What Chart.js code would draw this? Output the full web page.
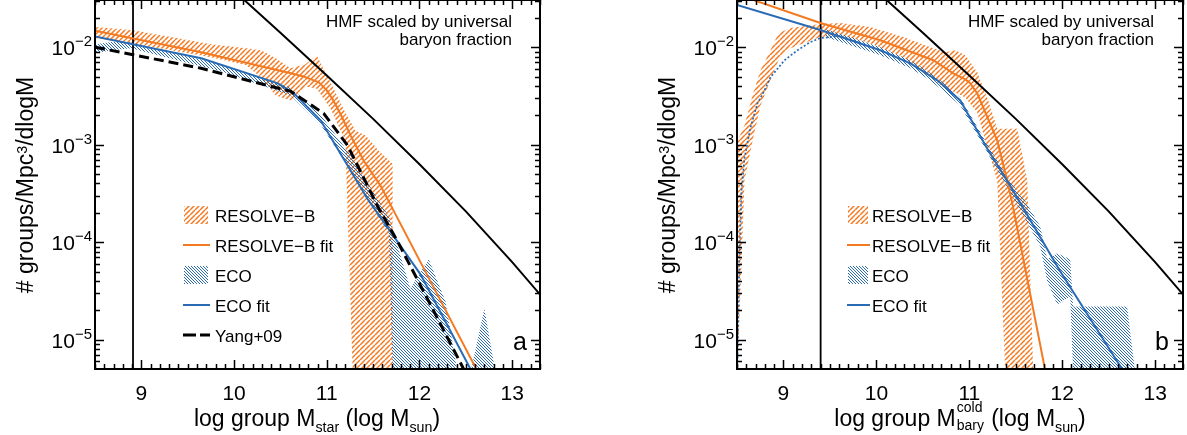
<!DOCTYPE html>
<html>
<head>
<meta charset="utf-8">
<script src="https://cdn.jsdelivr.net/npm/chart.js@4.4.1/dist/chart.umd.min.js"></script>
<style>
  html, body { margin: 0; padding: 0; background: #fff; }
  #wrap { position: relative; width: 1187px; height: 435px; overflow: hidden; background: #fff;
          font-family: "Liberation Sans", Arial, Helvetica, sans-serif; color: #000; }
  canvas { position: absolute; top: 0; }
  .xt { position: absolute; width: 420px; text-align: center; font-size: 23px; line-height: 23px; white-space: nowrap; }
  .yt { position: absolute; width: 400px; height: 26px; line-height: 26px; text-align: center; font-size: 23px;
        white-space: nowrap; transform: rotate(-90deg); }
  .sb { position: relative; top: 0.42em; font-size: 0.62em; }
  .sp { position: relative; top: -0.45em; font-size: 0.62em; }
  .stk { display: inline-block; position: relative; width: 29px; height: 14px; font-size: 14px; }
  .stk span { position: absolute; left: 1px; line-height: 14px; }
</style>
</head>
<body>
<div id="wrap">
  <canvas id="chartA" width="590" height="435" style="left:0;width:590px;height:435px"></canvas>
  <canvas id="chartB" width="597" height="435" style="left:590px;width:597px;height:435px"></canvas>
  <div class="xt" style="left:107px;top:407px">log group M<span class="sb">star</span> (log M<span class="sb">sun</span>)</div>
  <div class="xt" style="left:750px;top:407px">log group M<span class="stk"><span style="top:-12px">cold</span><span style="top:6px">bary</span></span> (log M<span class="sb">sun</span>)</div>
  <div class="yt" style="left:-175px;top:172px"># groups/Mpc<span class="sp">3</span>/dlogM</div>
  <div class="yt" style="left:467px;top:172px"># groups/Mpc<span class="sp">3</span>/dlogM</div>
</div>
<script>
// axis ranges
const X_MIN = 8.5, X_MAX = 13.3;
const Y_MIN = 5e-6, Y_MAX = 3.05e-2;
const FLOOR = 4.6e-6; // stands in for zero on the log axis

const xTicks = [9, 10, 11, 12, 13];
const xTickLabels = ["9", "10", "11", "12", "13"];
const yTicks = [1e-5, 1e-4, 1e-3, 1e-2];
const yTickExp = ["\u22125", "\u22124", "\u22123", "\u22122"];

// halo mass function scaled by baryon fraction (same in both panels)
const hmfX = [10.0, 10.11, 10.5, 11.0, 11.5, 12.0, 12.5, 13.0, 13.3, 13.4];
const hmfY = [3.80e-2, 3.05e-2, 1.41e-2, 5.13e-3, 1.84e-3, 6.31e-4, 2.07e-4, 6.24e-5, 2.91e-5, 2.3e-5];

// ---- panel a (stellar mass) ----
const vlineA = 8.91;
const resFitAX = [8.5, 9.645, 10.613, 10.75, 10.86, 10.914, 11.0, 11.065, 11.151, 11.258, 11.398, 11.58, 12.7];
const resFitAY = [1.48e-2, 8.87e-3, 5.40e-3, 5.0e-3, 4.57e-3, 4.36e-3, 3.61e-3, 2.91e-3, 2.04e-3, 1.24e-3, 6.84e-4, 3.80e-4, 3.47e-6];
const ecoFitAX = [8.5, 9.645, 10.473, 10.645, 10.935, 11.226, 11.44, 12.011, 12.65];
const ecoFitAY = [1.29e-2, 7.71e-3, 4.26e-3, 3.36e-3, 1.77e-3, 6.08e-4, 2.77e-4, 4.68e-5, 3.3e-6];
const yangX = [8.5, 9.645, 10.613, 10.968, 11.226, 11.398, 11.548, 11.763, 12.118, 12.56];
const yangY = [1.0e-2, 6.08e-3, 3.52e-3, 2.09e-3, 9.77e-4, 4.57e-4, 2.34e-4, 1.02e-4, 2.29e-5, 3.5e-6];

const resBandAX = [8.5, 8.89, 9.32, 9.75, 10.13, 10.29, 10.45, 10.61, 10.77, 10.89, 11.04, 11.20, 11.28, 11.31, 11.42, 11.56, 11.71];
const resBandAHi = [1.61e-2, 1.50e-2, 1.27e-2, 1.07e-2, 9.77e-3, 9.31e-3, 7.71e-3, 6.08e-3, 6.68e-3, 8.28e-3, 4.36e-3, 2.14e-3, 1.57e-3, 1.39e-3, 1.24e-3, 8.67e-4, 6.37e-4];
const resBandALo = [1.24e-2, 1.10e-2, 9.31e-3, 7.89e-3, 6.52e-3, 4.91e-3, 3.20e-3, 2.84e-3, 3.96e-3, 3.78e-3, 2.35e-3, 1.10e-3, 0, 0, 0, 0, 0];

const ecoBandAX = [8.5, 8.68, 8.89, 9.22, 9.86, 10.61, 10.94, 11.26, 11.53, 11.67, 11.71, 11.90, 12.10, 12.28, 12.41, 12.55, 12.70, 12.82];
const ecoBandAHi = [1.07e-2, 1.13e-2, 1.13e-2, 9.31e-3, 6.68e-3, 3.87e-3, 1.99e-3, 7.71e-4, 2.98e-4, 1.85e-4, 1.36e-4, 3.36e-5, 6.68e-5, 2.47e-5, 0, 0, 2.09e-5, 0];
const ecoBandALo = [8.67e-3, 9.31e-3, 9.77e-3, 8.07e-3, 5.66e-3, 3.20e-3, 1.57e-3, 5.40e-4, 1.99e-4, 1.24e-4, 0, 0, 0, 0, 0, 0, 0, 0];

// ---- panel b (cold baryonic mass) ----
const vlineB = 9.40;
const resFitBX = [8.5, 8.677, 9.398, 10.043, 10.613, 10.828, 10.957, 11.011, 11.086, 11.151, 11.301, 11.409, 11.473, 11.85];
const resFitBY = [3.48e-2, 3.05e-2, 1.77e-2, 1.18e-2, 7.35e-3, 5.40e-3, 4.68e-3, 4.26e-3, 3.36e-3, 2.40e-3, 1.10e-3, 4.26e-4, 2.24e-4, 3.36e-6];
const ecoFitBX = [8.5, 9.398, 10.043, 10.366, 10.656, 10.903, 11.194, 11.441, 11.978, 12.656, 12.75];
const ecoFitBY = [2.71e-2, 1.50e-2, 9.31e-3, 6.84e-3, 4.57e-3, 2.84e-3, 9.10e-4, 3.78e-4, 5.02e-5, 4.79e-6, 3.44e-6];
const ecoObsBX = [8.502, 8.527, 8.548, 8.581, 8.645, 8.72, 8.796, 8.86, 9.011, 9.151, 9.29, 9.398, 9.613, 9.828];
const ecoObsBY = [4.0e-6, 8.07e-5, 3.36e-4, 7.35e-4, 1.50e-3, 2.65e-3, 3.61e-3, 4.91e-3, 7.35e-3, 9.31e-3, 1.13e-2, 1.24e-2, 1.30e-2, 1.10e-2];

const resBandBX = [8.505, 8.581, 8.667, 8.753, 8.86, 8.946, 9.075, 9.398, 9.613, 9.935, 10.29, 10.581, 10.742, 10.849, 10.957, 11.086, 11.204, 11.301, 11.387, 11.516, 11.624, 11.688];
const resBandBHi = [1.10e-3, 1.57e-3, 3.20e-3, 5.79e-3, 9.31e-3, 1.39e-2, 1.57e-2, 1.73e-2, 1.77e-2, 1.61e-2, 1.27e-2, 1.0e-2, 8.87e-3, 9.31e-3, 8.28e-3, 5.52e-3, 2.84e-3, 1.46e-3, 1.46e-3, 1.46e-3, 4.26e-4, 0];
const resBandBLo = [0, 4.26e-4, 1.10e-3, 2.52e-3, 4.57e-3, 7.35e-3, 9.77e-3, 1.27e-2, 1.33e-2, 1.10e-2, 7.89e-3, 4.91e-3, 3.78e-3, 3.44e-3, 3.05e-3, 2.14e-3, 8.67e-4, 4.26e-4, 0, 0, 0, 0];

const ecoBandBX = [9.452, 9.72, 10.043, 10.366, 10.527, 10.688, 10.903, 11.172, 11.441, 11.602, 11.763, 11.839, 11.946, 12.086, 12.118, 12.699, 12.785];
const ecoBandBHi = [1.53e-2, 1.27e-2, 1.0e-2, 7.35e-3, 5.93e-3, 4.57e-3, 3.05e-3, 1.10e-3, 4.16e-4, 2.65e-4, 1.46e-4, 6.68e-5, 7.71e-5, 6.68e-5, 2.19e-5, 2.19e-5, 0];
const ecoBandBLo = [1.27e-2, 1.05e-2, 8.28e-3, 6.08e-3, 4.91e-3, 3.78e-3, 2.52e-3, 9.10e-4, 3.20e-4, 1.73e-4, 9.10e-5, 3.96e-5, 2.30e-5, 2.77e-5, 0, 0, 0];

const ORANGE = "#f47a22";
const BLUE = "#2a6bb4";
const FONT = '"Liberation Sans", Arial, Helvetica, sans-serif';

// hatch fills
function hatch(color, size, width, dir) {
  const c = document.createElement("canvas");
  c.width = size;
  c.height = size;
  const g = c.getContext("2d");
  g.strokeStyle = color;
  g.lineWidth = width;
  g.beginPath();
  for (let k = -1; k <= 1; k++) {
    if (dir > 0) {
      g.moveTo(k * size, size);
      g.lineTo(k * size + size, 0);
    } else {
      g.moveTo(k * size, 0);
      g.lineTo(k * size + size, size);
    }
  }
  g.stroke();
  return g.createPattern(c, "repeat");
}
const orangeHatch = hatch(ORANGE, 5, 1.5, 1);
const blueHatch = hatch(BLUE, 3, 1, -1);

function pts(xs, ys) {
  return xs.map((x, i) => ({ x, y: ys[i] > 0 ? ys[i] : FLOOR }));
}
function band(xs, hi, lo) {
  return pts(xs, hi).concat(pts(xs, lo).reverse());
}
function vline(x) {
  return [{ x, y: FLOOR }, { x, y: 1 }];
}
function lineDs(data, color, width, dash) {
  return { data, borderColor: color, borderWidth: width, borderDash: dash || [], pointRadius: 0, fill: false, tension: 0 };
}
function bandDs(data, pattern) {
  return { data, borderColor: "rgba(0,0,0,0)", borderWidth: 1, backgroundColor: pattern, pointRadius: 0, fill: "shape", tension: 0 };
}

const framePlugin = {
  id: "frame",
  afterDatasetsDraw(chart, args, o) {
    const { ctx, chartArea: a } = chart;
    const x = chart.scales.x, y = chart.scales.y;
    ctx.save();

    // inward ticks on all four sides
    ctx.strokeStyle = "#000";
    ctx.lineWidth = 1.5;
    ctx.beginPath();
    const nx = Math.round((X_MAX - X_MIN) * 10);
    for (let i = 0; i <= nx; i++) {
      const v = X_MIN + i / 10;
      const len = Math.abs(v - Math.round(v)) < 1e-6 ? 9 : 5;
      const px = Math.round(x.getPixelForValue(v)) + 0.5;
      ctx.moveTo(px, a.bottom);
      ctx.lineTo(px, a.bottom - len);
      ctx.moveTo(px, a.top);
      ctx.lineTo(px, a.top + len);
    }
    for (let d = -6; d <= -1; d++) {
      for (let k = 1; k <= 9; k++) {
        const v = k * Math.pow(10, d);
        if (v < Y_MIN || v > Y_MAX) continue;
        const len = k === 1 ? 9 : 5;
        const py = Math.round(y.getPixelForValue(v)) + 0.5;
        ctx.moveTo(a.left, py);
        ctx.lineTo(a.left + len, py);
        ctx.moveTo(a.right, py);
        ctx.lineTo(a.right - len, py);
      }
    }
    ctx.stroke();
    ctx.lineWidth = 2;
    ctx.strokeRect(a.left, a.top, a.right - a.left, a.bottom - a.top);

    // tick labels
    ctx.fillStyle = "#000";
    ctx.textBaseline = "alphabetic";
    ctx.textAlign = "center";
    ctx.font = "21px " + FONT;
    xTicks.forEach((v, i) => ctx.fillText(xTickLabels[i], x.getPixelForValue(v), a.bottom + 31));
    ctx.textAlign = "right";
    yTicks.forEach((v, i) => {
      const py = y.getPixelForValue(v);
      ctx.font = "15px " + FONT;
      const w = ctx.measureText(yTickExp[i]).width;
      ctx.fillText(yTickExp[i], a.left - 3, py - 1);
      ctx.font = "21px " + FONT;
      ctx.fillText("10", a.left - 3 - w, py + 8);
    });

    // HMF note
    ctx.font = "17px " + FONT;
    ctx.fillText("HMF scaled by universal", o.noteX, 27);
    ctx.fillText("baryon fraction", o.noteX, 45);

    // panel letter
    ctx.textAlign = "left";
    ctx.font = "25px " + FONT;
    ctx.fillText(o.letter, o.letterX, 350);

    // legend
    ctx.font = "17px " + FONT;
    o.legend.forEach((item, i) => {
      const cy = 215 + i * 30;
      if (item.kind === "hatch") {
        ctx.fillStyle = item.fill;
        ctx.fillRect(o.swX, cy - 9, o.swW, 18);
      } else {
        ctx.strokeStyle = item.color;
        ctx.lineWidth = item.kind === "dash" ? 3 : 2;
        ctx.setLineDash(item.kind === "dash" ? [13, 4] : []);
        ctx.beginPath();
        ctx.moveTo(o.swX - 1, cy);
        ctx.lineTo(o.swX + o.swW + 2, cy);
        ctx.stroke();
        ctx.setLineDash([]);
      }
      ctx.fillStyle = "#000";
      ctx.fillText(item.label, o.textX, cy + 7);
    });
    ctx.restore();
  },
};

function makeChart(id, yWidth, padRight, datasets, frameOpts) {
  return new Chart(document.getElementById(id), {
    type: "line",
    data: { datasets },
    options: {
      responsive: false,
      animation: false,
      devicePixelRatio: 1,
      events: [],
      layout: { padding: { left: 0, top: 0, right: padRight, bottom: 0 } },
      plugins: { legend: { display: false }, tooltip: { enabled: false }, frame: frameOpts },
      scales: {
        x: {
          type: "linear", min: X_MIN, max: X_MAX,
          grid: { display: false }, border: { display: false }, ticks: { display: false },
          afterFit: (s) => { s.height = 66; },
        },
        y: {
          type: "logarithmic", min: Y_MIN, max: Y_MAX,
          grid: { display: false }, border: { display: false }, ticks: { display: false },
          afterFit: (s) => { s.width = yWidth; },
        },
      },
    },
    plugins: [framePlugin],
  });
}

const legendItems = [
  { kind: "hatch", fill: orangeHatch, label: "RESOLVE\u2212B" },
  { kind: "line", color: ORANGE, label: "RESOLVE\u2212B fit" },
  { kind: "hatch", fill: blueHatch, label: "ECO" },
  { kind: "line", color: BLUE, label: "ECO fit" },
];

makeChart("chartA", 95, 50, [
  lineDs(pts(yangX, yangY), "#000", 3, [10, 5]),
  lineDs(pts(ecoFitAX, ecoFitAY), BLUE, 2),
  lineDs(pts(resFitAX, resFitAY), ORANGE, 2),
  lineDs(pts(hmfX, hmfY), "#000", 2),
  lineDs(vline(vlineA), "#000", 1.8),
  bandDs(band(ecoBandAX, ecoBandAHi, ecoBandALo), blueHatch),
  bandDs(band(resBandAX, resBandAHi, resBandALo), orangeHatch),
], {
  noteX: 512, letter: "a", letterX: 513,
  swX: 184, swW: 24, textX: 215,
  legend: legendItems.concat([{ kind: "dash", color: "#000", label: "Yang+09" }]),
});

makeChart("chartB", 147, 4, [
  lineDs(pts(ecoFitBX, ecoFitBY), BLUE, 2),
  lineDs(pts(resFitBX, resFitBY), ORANGE, 2),
  lineDs(pts(ecoObsBX, ecoObsBY), BLUE, 1.7, [2, 2]),
  lineDs(pts(hmfX, hmfY), "#000", 2),
  lineDs(vline(vlineB), "#000", 1.8),
  bandDs(band(ecoBandBX, ecoBandBHi, ecoBandBLo), blueHatch),
  bandDs(band(resBandBX, resBandBHi, resBandBLo), orangeHatch),
], {
  noteX: 564, letter: "b", letterX: 565,
  swX: 258, swW: 20, textX: 282,
  legend: legendItems,
});
</script>
</body>
</html>
